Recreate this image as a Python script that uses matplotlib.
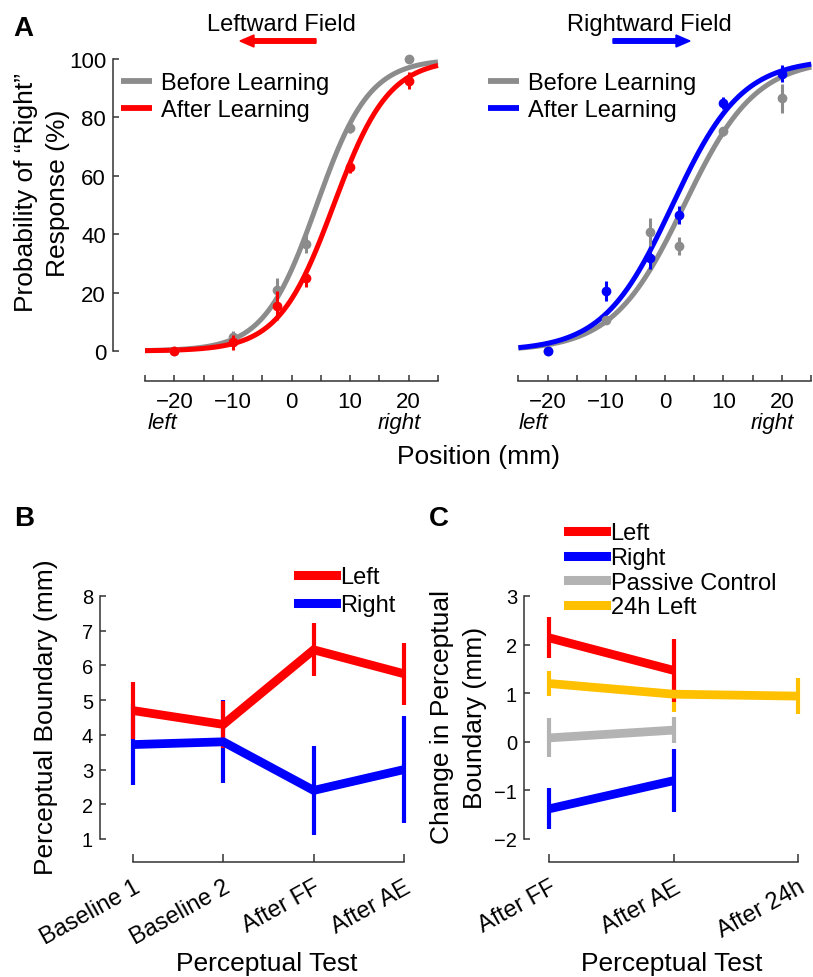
import numpy as np
import matplotlib
matplotlib.use("Agg")
import matplotlib.pyplot as plt
from matplotlib.lines import Line2D

plt.rcParams['font.family'] = ['Liberation Sans', 'DejaVu Sans']

W, H = 813, 978

# ---------------- data ----------------
positions = [-20, -10, -2.5, 2.5, 10, 20]
# Panel A, leftward field
left_before = [0, 4.7, 21, 36.6, 76.5, 100]
left_before_err = [0.8, 2, 4, 3, 2, 0.8]
left_after = [0, 3, 15.5, 25, 63, 92.6]
left_after_err = [0.8, 2.5, 5, 3, 2, 3]
# sigmoid fit parameters (boundary, slope) for curves
left_before_fit = (4.3, 4.5)
left_after_fit = (7.2, 4.7)
# Panel A, rightward field
right_before = [0, 10.6, 40.6, 36, 75.3, 86.6]
right_before_err = [0.8, 1.5, 5, 3, 1.5, 5]
right_after = [0, 20.5, 32, 46.6, 85, 95]
right_after_err = [0.8, 3.5, 4, 3, 2, 3]
right_before_fit = (3.3, 6.1)
right_after_fit = (1.3, 5.9)

# Panel B
b_tests = ['Baseline 1', 'Baseline 2', 'After FF', 'After AE']
b_left = [4.7, 4.3, 6.45, 5.76]
b_left_err = [0.83, 0.67, 0.76, 0.89]
b_right = [3.72, 3.8, 2.4, 3.0]
b_right_err = [1.17, 1.2, 1.28, 1.55]

# Panel C
c_tests = ['After FF', 'After AE', 'After 24h']
c_left = [2.14, 1.47]
c_left_err = [0.42, 0.65]
c_right = [-1.38, -0.8]
c_right_err = [0.42, 0.65]
c_passive = [0.08, 0.24]
c_passive_err = [0.4, 0.27]
c_24h = [1.2, 0.98, 0.94]
c_24h_err = [0.26, 0.37, 0.37]

RED = '#FF0000'
BLUE = '#0000FF'
GRAY = '#8C8C8C'
LGRAY = '#B3B3B3'
YEL = '#FFC000'
AXC = '#333333'

fig = plt.figure(figsize=(W / 100, H / 100), dpi=100)


def fx(px):
    return px / W


def fy(py):
    return 1 - py / H


def make_axes(px_left, px_right, px_top, px_bottom):
    return fig.add_axes([fx(px_left), fy(px_bottom), (px_right - px_left) / W, (px_bottom - px_top) / H])


def lim_from(px_lo, px_hi, px_a, val_a, px_b, val_b):
    scale = (val_b - val_a) / (px_b - px_a)
    return val_a + (px_lo - px_a) * scale, val_a + (px_hi - px_a) * scale


def style_axes(ax, show_left=True):
    ax.patch.set_visible(False)
    for s in ['top', 'right']:
        ax.spines[s].set_visible(False)
    for s in ['left', 'bottom']:
        ax.spines[s].set_color(AXC)
        ax.spines[s].set_linewidth(1.1)
    if not show_left:
        ax.spines['left'].set_visible(False)
        ax.tick_params(axis='y', left=False, labelleft=False)
    ax.tick_params(direction='in', color=AXC, width=1.1, length=4.5)


def sigmoid(x, p):
    mu, s = p
    return 100.0 / (1.0 + np.exp(-(np.asarray(x) - mu) / s))


# ---------------- Panel A ----------------
ylimA = lim_from(382, 55, 352, 0, 60, 100)
axA1 = make_axes(113, 440, 55, 382)
axA1.set_xlim(*lim_from(113, 440, 145, -25, 438, 25))
axA1.set_ylim(*ylimA)
axA2 = make_axes(518, 813, 55, 382)
axA2.set_xlim(*lim_from(518, 813, 547.7, -20, 782, 20))
axA2.set_ylim(*ylimA)

xs = np.linspace(-25, 25, 300)
for ax, bef, befe, befp, aft, afte, aftp, col in [
        (axA1, left_before, left_before_err, left_before_fit, left_after, left_after_err, left_after_fit, RED),
        (axA2, right_before, right_before_err, right_before_fit, right_after, right_after_err, right_after_fit, BLUE)]:
    style_axes(ax, show_left=(ax is axA1))
    ax.plot(xs, sigmoid(xs, befp), color=GRAY, lw=3.6, solid_capstyle='butt', label='Before Learning')
    ax.plot(xs, sigmoid(xs, aftp), color=col, lw=3.6, solid_capstyle='butt', label='After Learning')
    ax.errorbar(positions, bef, yerr=befe, fmt='o', color=GRAY, ms=6, elinewidth=2.2, capsize=0, zorder=3)
    ax.errorbar(positions, aft, yerr=afte, fmt='o', color=col, ms=6, elinewidth=2.2, capsize=0, zorder=4)
    ax.spines['bottom'].set_bounds(-25, 25)
    ax.spines['left'].set_bounds(0, 100)
    ax.set_xticks([-20, -10, 0, 10, 20])
    ax.set_xticklabels(['\u221220', '\u221210', '0', '10', '20'])
    ax.set_xticks([-25, -15, -5, 5, 15, 25], minor=True)
    ax.tick_params(axis='x', which='both', direction='in', length=4.5, width=1.1, color=AXC, labelsize=16, pad=7.5)
    ax.set_yticks([0, 20, 40, 60, 80, 100])
    ax.tick_params(axis='y', labelsize=16, pad=5)
    leg = ax.legend(loc='upper left', frameon=False, fontsize=17, handlelength=1.3, handletextpad=0.4,
                    labelspacing=0.23, borderpad=0, borderaxespad=0,
                    bbox_to_anchor=(fx(121 if ax is axA1 else 488), fy(73)), bbox_transform=fig.transFigure)
    for h in leg.get_lines():
        h.set_linewidth(4.2)

# titles with arrows
fig.text(fx(281), fy(25), 'Leftward Field', fontsize=17, ha='center', va='center')
fig.text(fx(649), fy(25), 'Rightward Field', fontsize=17, ha='center', va='center')
fig.patches.append(matplotlib.patches.FancyArrow(fx(316), fy(42), fx(240) - fx(316), 0, width=4.5 / H,
                                                 head_width=12 / H, head_length=14 / W, color=RED,
                                                 length_includes_head=True, transform=fig.transFigure))
fig.patches.append(matplotlib.patches.FancyArrow(fx(613), fy(42), fx(690) - fx(613), 0, width=4.5 / H,
                                                 head_width=12 / H, head_length=14 / W, color=BLUE,
                                                 length_includes_head=True, transform=fig.transFigure))

fig.text(fx(148), fy(424), 'left', fontsize=16, style='italic', ha='left', va='center')
fig.text(fx(421), fy(424), 'right', fontsize=16, style='italic', ha='right', va='center')
fig.text(fx(519), fy(424), 'left', fontsize=16, style='italic', ha='left', va='center')
fig.text(fx(794), fy(424), 'right', fontsize=16, style='italic', ha='right', va='center')
fig.text(fx(478), fy(457), 'Position (mm)', fontsize=19, ha='center', va='center')
fig.text(fx(26), fy(193), 'Probability of \u201cRight\u201d', fontsize=19, rotation=90, ha='center', va='center')
fig.text(fx(58), fy(193), 'Response (%)', fontsize=19, rotation=90, ha='center', va='center')
fig.text(fx(23), fy(29), 'A', fontsize=20, fontweight='bold', ha='center', va='center')

# ---------------- Panel B ----------------
axB = make_axes(100, 412, 585, 863)
axB.set_xlim(*lim_from(100, 412, 133, 0, 404, 3))
axB.set_ylim(*lim_from(863, 585, 840, 1, 597, 8))
style_axes(axB)
xb = np.arange(len(b_tests))
axB.errorbar(xb, b_right, yerr=b_right_err, color=BLUE, lw=6.3, elinewidth=3, capsize=0,
             solid_capstyle='butt', solid_joinstyle='miter')
axB.errorbar(xb, b_left, yerr=b_left_err, color=RED, lw=6.3, elinewidth=3, capsize=0,
             solid_capstyle='butt', solid_joinstyle='miter')
axB.spines['bottom'].set_bounds(0, 3)
axB.spines['left'].set_bounds(1, 8)
axB.set_yticks(range(1, 9))
axB.set_xticks(xb)
axB.set_xticklabels(b_tests, rotation=29, ha='right', va='top', rotation_mode='anchor')
axB.tick_params(axis='y', labelsize=14.5, pad=5)
axB.tick_params(axis='x', labelsize=17, pad=10, length=5.5)
handlesB = [Line2D([], [], color=RED, lw=6.5), Line2D([], [], color=BLUE, lw=6.5)]
axB.legend(handlesB, ['Left', 'Right'], loc='upper left', frameon=False, fontsize=17, handlelength=1.6,
           handletextpad=0.2, labelspacing=0.25, borderpad=0, borderaxespad=0,
           bbox_to_anchor=(fx(298), fy(567)), bbox_transform=fig.transFigure)
fig.text(fx(46), fy(717), 'Perceptual Boundary (mm)', fontsize=19, rotation=90, ha='center', va='center')
fig.text(fx(267), fy(964), 'Perceptual Test', fontsize=19, ha='center', va='center')
fig.text(fx(24), fy(519), 'B', fontsize=20, fontweight='bold', ha='center', va='center')

# ---------------- Panel C ----------------
axC = make_axes(524, 806, 585, 863)
axC.set_xlim(*lim_from(524, 806, 549, 0, 798, 2))
axC.set_ylim(*lim_from(863, 585, 840, -2, 597, 3))
style_axes(axC)
ekw = dict(lw=6.3, elinewidth=3, capsize=0, solid_capstyle='butt', solid_joinstyle='miter')
axC.errorbar([0, 1, 2], c_24h, yerr=c_24h_err, color=YEL, **ekw)
axC.errorbar([0, 1], c_passive, yerr=c_passive_err, color=LGRAY, **ekw)
axC.errorbar([0, 1], c_right, yerr=c_right_err, color=BLUE, **ekw)
axC.errorbar([0, 1], c_left, yerr=c_left_err, color=RED, **ekw)
axC.spines['bottom'].set_bounds(0, 2)
axC.spines['left'].set_bounds(-2, 3)
axC.set_yticks([-2, -1, 0, 1, 2, 3])
axC.set_yticklabels(['\u22122', '\u22121', '0', '1', '2', '3'])
axC.set_xticks([0, 1, 2])
axC.set_xticklabels(c_tests, rotation=29, ha='right', va='top', rotation_mode='anchor')
axC.tick_params(axis='y', labelsize=14.5, pad=5)
axC.tick_params(axis='x', labelsize=17, pad=10, length=5.5)
handlesC = [Line2D([], [], color=c, lw=6.5) for c in [RED, BLUE, LGRAY, YEL]]
axC.legend(handlesC, ['Left', 'Right', 'Passive Control', '24h Left'], loc='upper left', frameon=False,
           fontsize=17, handlelength=1.6, handletextpad=0.2, labelspacing=0.12, borderpad=0, borderaxespad=0,
           bbox_to_anchor=(fx(568), fy(523)), bbox_transform=fig.transFigure)
fig.text(fx(442), fy(717), 'Change in Perceptual', fontsize=19, rotation=90, ha='center', va='center')
fig.text(fx(475), fy(718), 'Boundary (mm)', fontsize=19, rotation=90, ha='center', va='center')
fig.text(fx(672), fy(964), 'Perceptual Test', fontsize=19, ha='center', va='center')
fig.text(fx(439), fy(519), 'C', fontsize=20, fontweight='bold', ha='center', va='center')

fig.savefig('out.png', dpi=100)
